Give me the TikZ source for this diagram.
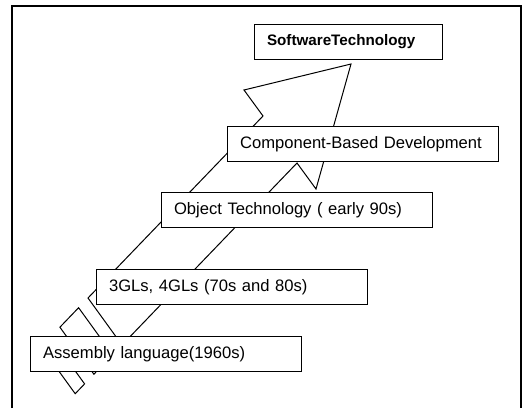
\documentclass[tikz,border=0pt]{standalone}
\usepackage{fontspec}
\setmainfont{Liberation Sans}
\begin{document}
\begin{tikzpicture}[x=1pt,y=-1pt,
  stagebox/.style={draw=black, line width=1.1pt, fill=white, anchor=north west,
    minimum height=35pt, inner xsep=12.5pt, inner ysep=0pt, align=left,
    text width=246pt, font=\fontsize{16.6}{19}\selectfont},
  arrowline/.style={draw=black, line width=1pt, line join=miter, fill=white},
  framestyle/.style={draw=black, line width=1.3pt}]
\useasboundingbox (0,0) rectangle (527,408);

% open frame around the diagram
\draw[framestyle] (12,408) -- (12,6) -- (521,6) -- (521,408);

% striped arrow, tail stripes first
\coordinate (bl) at (88,298);
\coordinate (br) at (122,345);
\coordinate (n1) at (263,116);
\coordinate (n2) at (297,163);
\coordinate (barbL) at (244,90);
\coordinate (barbR) at (316,189);
\coordinate (tip) at (351,64);
\path[arrowline] (41.2,346.7) -- (50.6,336.9) -- (84.6,383.9) -- (75.2,393.7) -- cycle;
\path[arrowline] (59.9,327.2) -- (78.6,307.7) -- (112.6,354.7) -- (93.9,374.2) -- cycle;
\path[arrowline] (bl) -- (n1) -- (barbL) -- (tip) -- (barbR) -- (n2) -- (br) -- cycle;

% stages
\node[stagebox] (asm) at (30,336) {Assembly language(1960s)};
\node[stagebox] (gl)  at (96,269) {3GLs, 4GLs (70s and 80s)};
\node[stagebox] (obj) at (161,192) {Object Technology ( early 90s)};
\node[stagebox] (cbd) at (227,126) {Component-Based Development};
\node[stagebox, text width=163pt, font=\fontsize{15.2}{18}\selectfont\bfseries] (swt) at (254,24) {SoftwareTechnology};
\end{tikzpicture}
\end{document}
